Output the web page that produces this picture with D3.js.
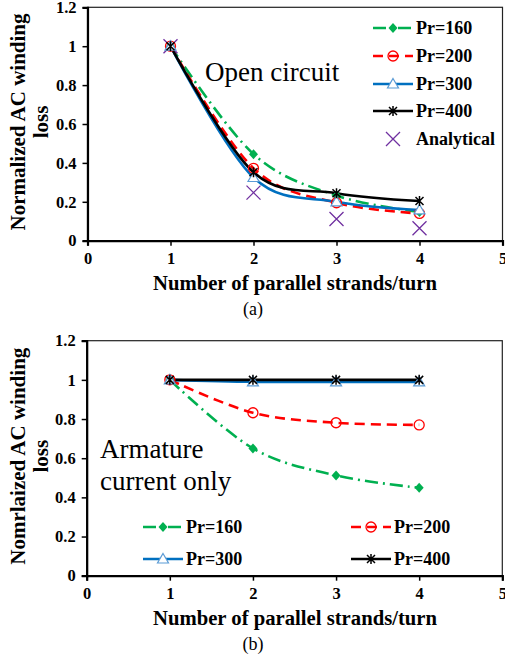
<!DOCTYPE html>
<html>
<head>
<meta charset="utf-8">
<script src="https://cdn.jsdelivr.net/npm/d3@7"></script>
</head>
<body style="margin:0; background:#fff">
<svg width="505" height="661"></svg>
<script>
// data
var strands = [1, 2, 3, 4];
var xTicks = [0, 1, 2, 3, 4, 5];
var yTicks = [0, 0.2, 0.4, 0.6, 0.8, 1, 1.2];

// (a) open circuit
var openPr160 = [1, 0.445, 0.232, 0.148];
var openPr200 = [1, 0.372, 0.195, 0.14];
var openPr300 = [1, 0.325, 0.2, 0.158];
var openPr400 = [1, 0.352, 0.244, 0.204];
var openAnalytical = [1, 0.247, 0.112, 0.064];

// (b) armature current only
var armPr160 = [1, 0.65, 0.512, 0.449];
var armPr200 = [1, 0.832, 0.781, 0.77];
var armPr300 = [1, 0.99, 0.99, 0.99];
var armPr400 = [1, 1, 1, 1];

var styles = {
  pr160: { color: "#00b050", dash: "13,5,2,5", marker: "diamond", label: "Pr=160" },
  pr200: { color: "#ff0000", dash: "10,6", marker: "circle", label: "Pr=200" },
  pr300: { color: "#0070c0", dash: null, marker: "triangle", label: "Pr=300" },
  pr400: { color: "#000000", dash: null, marker: "star", label: "Pr=400" },
  analytical: { color: "#7030a0", dash: null, marker: "cross", label: "Analytical" }
};

var FONT = "Liberation Serif";
var svg = d3.select("svg").attr("font-family", FONT);

function drawMarker(g, type, color, x, y) {
  if (type == "diamond") {
    g.append("path").attr("d", "M" + x + "," + (y - 5) + "L" + (x + 4.5) + "," + y + "L" + x + "," + (y + 5) + "L" + (x - 4.5) + "," + y + "Z")
      .attr("fill", color);
  } else if (type == "circle") {
    g.append("circle").attr("cx", x).attr("cy", y).attr("r", 5)
      .attr("fill", "none").attr("stroke", color).attr("stroke-width", 1.3);
  } else if (type == "triangle") {
    g.append("path").attr("d", "M" + x + "," + (y - 5.5) + "L" + (x + 5.5) + "," + (y + 4) + "L" + (x - 5.5) + "," + (y + 4) + "Z")
      .attr("fill", "#fff").attr("stroke", "#5b9bd5").attr("stroke-width", 1.2);
  } else if (type == "star") {
    g.append("path").attr("d", "M" + (x - 4) + "," + (y - 4) + "L" + (x + 4) + "," + (y + 4) + "M" + (x + 4) + "," + (y - 4) + "L" + (x - 4) + "," + (y + 4) + "M" + x + "," + (y - 5) + "L" + x + "," + (y + 5))
      .attr("stroke", color).attr("stroke-width", 1.5);
  } else if (type == "cross") {
    g.append("path").attr("d", "M" + (x - 7) + "," + (y - 7) + "L" + (x + 7) + "," + (y + 7) + "M" + (x + 7) + "," + (y - 7) + "L" + (x - 7) + "," + (y + 7))
      .attr("stroke", color).attr("stroke-width", 1.3);
  }
}

function drawPanel(p) {
  var x = d3.scaleLinear().domain([0, 5]).range([p.left, p.right]);
  var y = d3.scaleLinear().domain([0, 1.2]).range([p.bottom, p.top]);
  var g = svg.append("g");

  // frame
  g.append("rect").attr("x", p.left).attr("y", p.top)
    .attr("width", p.right - p.left).attr("height", p.bottom - p.top)
    .attr("fill", "none").attr("stroke", "#222").attr("stroke-width", 1.2);

  var xAxis = g.append("g").attr("transform", "translate(0," + p.bottom + ")")
    .call(d3.axisBottom(x).tickValues(xTicks).tickFormat(d3.format("d")).tickSize(5).tickPadding(5));
  var yAxis = g.append("g").attr("transform", "translate(" + p.left + ",0)")
    .call(d3.axisLeft(y).tickValues(yTicks).tickFormat(function(d) { return d == 0 || d == 1 ? d : d.toFixed(1); }).tickSize(5).tickPadding(6));
  [xAxis, yAxis].forEach(function(a) {
    a.attr("font-family", FONT);
    a.select(".domain").attr("stroke-width", 2.2);
    a.selectAll(".tick line").attr("stroke-width", 1.5);
    a.selectAll("text").attr("font-family", FONT).attr("font-weight", "bold")
      .attr("font-size", 16.5).attr("fill", "#000");
  });
  xAxis.selectAll("text").attr("dy", "0.8em");

  // series lines
  var line = d3.line()
    .x(function(d, i) { return x(strands[i]); })
    .y(function(d) { return y(d); })
    .curve(d3.curveCardinal.tension(0));

  p.series.forEach(function(s) {
    var st = styles[s.key];
    if (st.marker != "cross") {
      g.append("path").datum(s.values).attr("d", line)
        .attr("fill", "none").attr("stroke", st.color).attr("stroke-width", 2.6)
        .attr("stroke-dasharray", st.dash);
    }
  });
  p.series.forEach(function(s) {
    var st = styles[s.key];
    s.values.forEach(function(v, i) { drawMarker(g, st.marker, st.color, x(strands[i]), y(v)); });
  });

  // legend
  p.legend.forEach(function(l) {
    var st = styles[l.key];
    if (st.marker != "cross") {
      g.append("line").attr("x1", l.x).attr("x2", l.x + 40).attr("y1", l.y).attr("y2", l.y)
        .attr("stroke", st.color).attr("stroke-width", 2.6).attr("stroke-dasharray", st.dash);
    }
    drawMarker(g, st.marker, st.color, l.x + 20, l.y);
    g.append("text").attr("x", l.x + 43).attr("y", l.y).attr("dy", "0.35em")
      .attr("font-family", FONT).attr("font-weight", "bold").attr("font-size", 18).text(st.label);
  });

  // annotation
  p.note.forEach(function(t, i) {
    g.append("text").attr("x", p.noteX).attr("y", p.noteY + i * 32)
      .attr("font-family", FONT).attr("font-size", 27).text(t);
  });

  // axis titles
  var cy = (p.top + p.bottom) / 2 - 2;
  g.append("text").attr("transform", "translate(18," + cy + ") rotate(-90)")
    .attr("text-anchor", "middle").attr("dy", "0.35em").attr("font-family", FONT)
    .attr("font-weight", "bold").attr("font-size", 21).text(p.yTitle);
  g.append("text").attr("transform", "translate(41," + cy + ") rotate(-90)")
    .attr("text-anchor", "middle").attr("dy", "0.35em").attr("font-family", FONT)
    .attr("font-weight", "bold").attr("font-size", 21).text("loss");
  g.append("text").attr("x", 295).attr("y", p.bottom + 49).attr("font-family", FONT)
    .attr("text-anchor", "middle").attr("font-weight", "bold").attr("font-size", 20.7)
    .text("Number of parallel strands/turn");
  g.append("text").attr("x", 253).attr("y", p.bottom + 74).attr("font-family", FONT)
    .attr("text-anchor", "middle").attr("font-size", 18).text(p.caption);
}

drawPanel({
  left: 87.5, right: 502.5, top: 7.3, bottom: 240.7,
  yTitle: "Normalized AC winding", caption: "(a)",
  note: ["Open circuit"], noteX: 205, noteY: 81,
  series: [
    { key: "analytical", values: openAnalytical },
    { key: "pr160", values: openPr160 },
    { key: "pr200", values: openPr200 },
    { key: "pr300", values: openPr300 },
    { key: "pr400", values: openPr400 }
  ],
  legend: [
    { key: "pr160", x: 373, y: 28 },
    { key: "pr200", x: 373, y: 56 },
    { key: "pr300", x: 373, y: 84 },
    { key: "pr400", x: 373, y: 111 },
    { key: "analytical", x: 373, y: 139 }
  ]
});

drawPanel({
  left: 86.7, right: 502.3, top: 340.7, bottom: 575.7,
  yTitle: "Nomrlaized AC winding", caption: "(b)",
  note: ["Armature", "current only"], noteX: 100, noteY: 458,
  series: [
    { key: "pr160", values: armPr160 },
    { key: "pr200", values: armPr200 },
    { key: "pr300", values: armPr300 },
    { key: "pr400", values: armPr400 }
  ],
  legend: [
    { key: "pr160", x: 143, y: 527 },
    { key: "pr200", x: 351, y: 527 },
    { key: "pr300", x: 143, y: 559 },
    { key: "pr400", x: 351, y: 559 }
  ]
});
</script>
</body>
</html>
